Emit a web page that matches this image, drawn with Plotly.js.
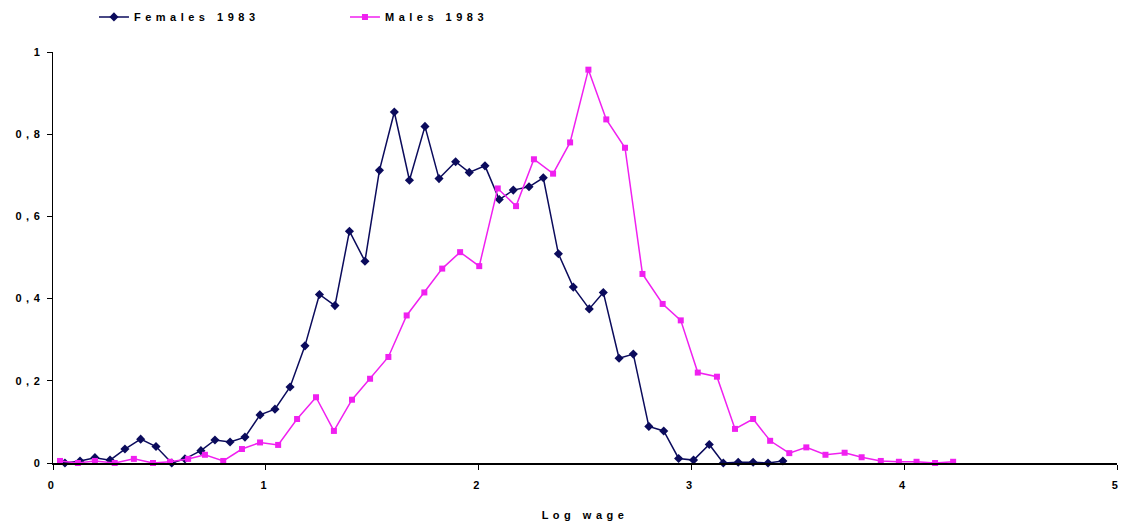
<!DOCTYPE html>
<html><head><meta charset="utf-8">
<script src="https://cdn.plot.ly/plotly-3.0.1.min.js"></script>
<style>html,body{margin:0;padding:0;background:#fff}#chart{width:1124px;height:528px}
svg text{letter-spacing:4.5px}</style>
</head><body><div id="chart"></div>
<script>
const femalesX = [0.056,0.127,0.197,0.268,0.338,0.412,0.484,0.558,0.62,0.695,0.761,0.832,0.902,0.973,1.043,1.114,
  1.184,1.252,1.325,1.393,1.466,1.534,1.604,1.675,1.748,1.814,1.892,1.956,2.03,2.097,2.163,2.237,2.304,2.375,
  2.445,2.52,2.586,
  2.66,2.727,2.80,2.87,2.94,3.01,3.084,3.15,3.22,3.29,3.36,3.43];
const femalesY = [0,0.005,0.013,0.007,0.034,0.058,0.04,0,0.01,0.03,0.056,0.051,0.063,0.117,0.131,0.185,
  0.285,0.41,0.383,0.564,0.491,0.712,0.854,0.688,0.819,0.692,0.733,0.707,0.723,0.641,0.664,0.672,0.694,0.509,
  0.428,0.375,0.415,
  0.255,0.265,0.089,0.078,0.011,0.007,0.045,0,0.002,0.002,0,0.005];
const malesX = [0.033,0.117,0.197,0.29,0.38,0.47,0.55,0.635,0.714,0.80,0.888,0.973,1.058,1.147,1.236,1.32,1.405,1.49,
  1.576,1.662,1.745,1.829,1.913,2.003,2.09,2.176,2.26,2.35,
  2.43,2.516,2.60,2.688,
  2.77,2.865,2.95,3.03,3.12,3.205,3.29,3.37,3.46,3.54,3.63,3.72,3.80,3.89,3.975,4.058,4.145,4.23];
const malesY = [0.005,0,0.005,0,0.01,0,0.003,0.01,0.02,0.005,0.034,0.05,0.044,0.107,0.16,0.078,0.154,0.205,
  0.258,0.359,0.415,0.473,0.513,0.479,0.668,0.625,0.739,0.704,
  0.78,0.957,0.836,0.767,
  0.46,0.387,0.347,0.22,0.21,0.083,0.107,0.054,0.024,0.038,0.02,0.025,0.014,0.005,0.003,0.003,0,0.003];
const yTickVals = [0,0.2,0.4,0.6,0.8,1];
const yTickText = ['0','0,2','0,4','0,6','0,8','1'];
const xTickVals = [0,1,2,3,4,5];
const xTickText = ['0','1','2','3','4','5'];

const font = {family:'Liberation Sans, Arial, sans-serif', size:11, color:'#000', weight:'bold'};
const data = [
  {x:femalesX, y:femalesY, name:'Females 1983', type:'scatter', mode:'lines+markers',
   line:{color:'#0b0b5c', width:1.5}, marker:{symbol:'diamond', size:7, color:'#0b0b5c'}, cliponaxis:false},
  {x:malesX, y:malesY, name:'Males 1983', type:'scatter', mode:'lines+markers',
   line:{color:'#f020f0', width:1.5}, marker:{symbol:'square', size:6, color:'#f020f0'}, cliponaxis:false}
];
const layout = {
  width:1124, height:528,
  margin:{l:53, r:7, t:52, b:65, autoexpand:false},
  paper_bgcolor:'#fff', plot_bgcolor:'#fff',
  font:font,
  showlegend:true,
  legend:{orientation:'h', x:0.0385, xanchor:'left', yref:'container', y:0.968, yanchor:'middle',
          font:font, entrywidth:206, entrywidthmode:'pixels', bgcolor:'rgba(0,0,0,0)'},
  xaxis:{range:[0,5], tickvals:xTickVals, ticktext:xTickText, showgrid:false, zeroline:false,
         showline:true, linecolor:'#000', linewidth:1.5, ticks:'outside', ticklen:5, tickcolor:'#000',
         ticklabelstandoff:6, tickfont:font, title:{text:'Log wage', font:font, standoff:21}},
  yaxis:{range:[0,1], tickvals:yTickVals, ticktext:yTickText, showgrid:false, zeroline:false,
         showline:true, linecolor:'#000', linewidth:1.5, ticks:'outside', ticklen:5, tickcolor:'#000',
         tickfont:font}
};
Plotly.newPlot('chart', data, layout, {displayModeBar:false, staticPlot:true});
</script></body></html>
